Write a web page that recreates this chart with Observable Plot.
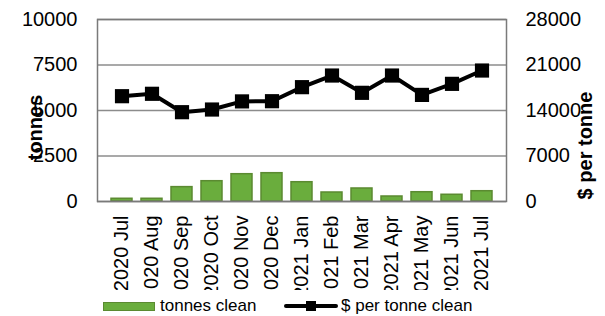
<!DOCTYPE html>
<html><head><meta charset="utf-8">
<script src="https://cdn.jsdelivr.net/npm/d3@7"></script>
<script src="https://cdn.jsdelivr.net/npm/@observablehq/plot@0.6"></script>
<style>
body{margin:0;background:#fff;font-family:"Liberation Sans",Arial,sans-serif;}
#wrap{position:relative;width:605px;height:316px;overflow:hidden}
#chart svg{overflow:hidden;display:block}
#legend{position:absolute;left:0;top:290px;width:605px;height:26px;font-size:17px;color:#000}
#legend .t{position:absolute;top:6px;line-height:20px;white-space:nowrap}
</style></head><body>
<div id="wrap"><div id="chart"></div><div id="legend"></div></div>
<script>
const months = ["2020 Jul","2020 Aug","2020 Sep","2020 Oct","2020 Nov","2020 Dec","2021 Jan","2021 Feb","2021 Mar","2021 Apr","2021 May","2021 Jun","2021 Jul"];
const tonnesClean = [150,150,790,1115,1500,1555,1060,495,715,275,510,370,565];
const dollarsPerTonne = [16200,16570,13740,14150,15400,15430,17590,19380,16720,19380,16400,18100,20150];
const leftTicks = [0,2500,5000,7500,10000];
const rightTicks = [0,7000,14000,21000,28000];
const leftMax = 10000, rightMax = 28000;
const leftTitle = "tonnes", rightTitle = "$ per tonne";
const seriesNames = ["tonnes clean","$ per tonne clean"];

const barFill = "#6aad3d", barStroke = "#5b8a31";

const data = months.map((m,i)=>({month:m, tonnes:tonnesClean[i], price:dollarsPerTonne[i], priceScaled:dollarsPerTonne[i]*leftMax/rightMax}));

const chart = Plot.plot({
  width:605, height:290,
  marginLeft:97, marginRight:99, marginTop:19, marginBottom:89,
  style:{fontFamily:'"Liberation Sans",Arial,sans-serif', fontSize:"20px", color:"#000", background:"#fff"},
  x:{domain:months, padding:0.3, label:null},
  y:{domain:[0,leftMax], label:null},
  marks:[
    Plot.ruleY(leftTicks.slice(1), {stroke:"#8c8c8c", strokeWidth:1.5}),
    Plot.barY(data,{x:"month", y:"tonnes", fill:barFill, stroke:barStroke, strokeWidth:1.5}),
    Plot.line(data,{x:"month", y:"priceScaled", stroke:"#000", strokeWidth:4}),
    Plot.dot(data,{x:"month", y:"priceScaled", symbol:"square", r:8, fill:"#000", stroke:"none"}),
    Plot.axisY({anchor:"left", ticks:leftTicks, tickSize:0, tickPadding:20, label:null, tickFormat:d=>String(d)}),
    Plot.axisY({anchor:"right", ticks:rightTicks.map(v=>v*leftMax/rightMax), tickSize:0, tickPadding:19, label:null, tickFormat:d=>String(Math.round(d*rightMax/leftMax))}),
    Plot.axisX({tickRotate:-90, tickSize:0, tickPadding:14, label:null}),
    Plot.ruleY([0], {stroke:"#7a7a7a", strokeWidth:1.5}),
    Plot.frame({stroke:"#7a7a7a", strokeWidth:1.5, fill:"none"}),
    Plot.text([leftTitle], {frameAnchor:"left", textAnchor:"middle", dx:-62, dy:17, rotate:-90, fontWeight:"bold", fontSize:20}),
    Plot.text([rightTitle], {frameAnchor:"right", textAnchor:"middle", dx:79, dy:35, rotate:-90, fontWeight:"bold", fontSize:20})
  ]
});
document.getElementById("chart").appendChild(chart);

const lg = document.getElementById("legend");
lg.innerHTML = `
<div style="position:absolute;left:103px;top:12px;width:50px;height:7px;background:${barFill};border:1px solid ${barStroke}"></div>
<div class="t" style="left:160px">${seriesNames[0]}</div>
<div style="position:absolute;left:284px;top:14px;width:54px;height:4px;background:#000;border-radius:2px"></div>
<div style="position:absolute;left:306px;top:11px;width:10px;height:10px;background:#000"></div>
<div class="t" style="left:341px">${seriesNames[1]}</div>`;
</script>
</body></html>
